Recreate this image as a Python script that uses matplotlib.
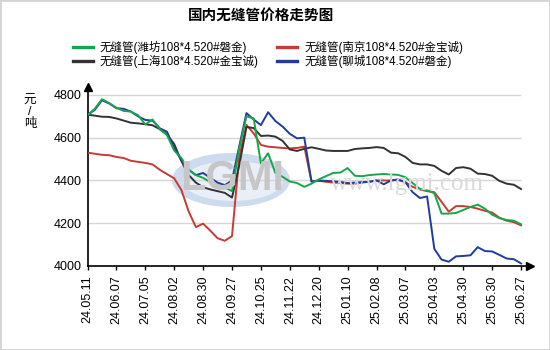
import matplotlib
matplotlib.use("Agg")
import matplotlib.pyplot as plt
from matplotlib.patches import Ellipse, Rectangle

plt.rcParams['font.family'] = ['Liberation Sans', 'Noto Sans CJK SC', 'DejaVu Sans']

# tick labels (one every 4 data points)
dates = ['24.05.11', '24.06.07', '24.07.05', '24.08.02', '24.08.30', '24.09.27',
         '24.10.25', '24.11.22', '24.12.20', '25.01.10', '25.02.08', '25.03.07',
         '25.04.03', '25.04.30', '25.05.30', '25.06.27']

# prices, yuan/ton
weifang = [4705, 4735, 4780, 4762, 4740, 4725, 4722, 4705, 4662, 4685, 4640, 4612,
           4540, 4505, 4450, 4425, 4412, 4392, 4378, 4368, 4350, 4550, 4700, 4690,
           4480, 4527, 4435, 4417, 4395, 4388, 4370, 4385, 4405, 4420, 4435, 4437,
           4458, 4422, 4420, 4425, 4428, 4430, 4428, 4426, 4415, 4388, 4360, 4354,
           4340, 4245, 4245, 4248, 4262, 4276, 4287, 4268, 4240, 4224, 4215, 4212,
           4195]
shanghai = [4708, 4703, 4698, 4697, 4690, 4680, 4670, 4667, 4663, 4658, 4640, 4615,
            4570, 4490, 4425, 4390, 4368, 4358, 4350, 4342, 4320, 4470, 4650, 4645,
            4608, 4610, 4605, 4585, 4545, 4538, 4548, 4555, 4548, 4540, 4538, 4538,
            4538, 4547, 4550, 4552, 4556, 4552, 4530, 4527, 4510, 4482, 4475, 4475,
            4468, 4445, 4428, 4458, 4462, 4455, 4432, 4430, 4422, 4398, 4385, 4380,
            4360]
nanjing = [4530, 4525, 4520, 4518, 4510, 4505, 4492, 4487, 4482, 4475, 4450, 4430,
           4410, 4355, 4255, 4182, 4198, 4165, 4130, 4118, 4140, 4510, 4660, 4620,
           4566, 4558, 4555, 4552, 4550, 4552, 4558, 4395, 4398, 4394, 4390, 4388,
           4385, 4385, 4390, 4395, 4400, 4400, 4400, 4402, 4392, 4370, 4358, 4350,
           4345, 4300, 4254, 4280, 4280, 4276, 4268, 4258, 4250, 4226, 4212, 4205,
           4190]
liaocheng = [4706, 4730, 4775, 4760, 4738, 4735, 4722, 4700, 4683, 4680, 4644, 4628,
             4550, 4495, 4450, 4425, 4435, 4412, 4390, 4378, 4400, 4560, 4715, 4685,
             4659, 4719, 4678, 4652, 4618, 4597, 4600, 4395, 4400, 4398, 4396, 4393,
             4388, 4390, 4392, 4393, 4400, 4382, 4400, 4405, 4392, 4345, 4318, 4325,
             4080, 4030, 4020, 4045, 4047, 4050, 4088, 4070, 4068, 4052, 4035, 4032,
             4012]

x = [i / 4 for i in range(len(weifang))]
yticks = [4000, 4200, 4400, 4600, 4800]

fig = plt.figure(figsize=(5.5, 3.5), dpi=100)
ax = fig.add_axes([87.5 / 550, 84 / 350, 442.5 / 550, 179 / 350])

# watermark
ax.add_patch(Ellipse((231 / 550, 1 - 180 / 350), 118 / 550, 54 / 350,
                     transform=fig.transFigure, fc='#cddbef', ec='none', zorder=0.5))
ax.add_patch(Ellipse((233 / 550, 1 - 181 / 350), 100 / 550, 40 / 350,
                     transform=fig.transFigure, fc='#e9eff8', ec='none', zorder=0.6))
fig.text(232 / 550, 1 - 179 / 350, 'LGMI', ha='center', va='center', fontsize=30,
         fontweight='bold', color='#c6c6c6', zorder=0.7)
fig.text(407 / 550, 1 - 184 / 350, 'www.lgmi.com', ha='center', va='center',
         fontsize=18, family='Liberation Serif', color='#dadada', zorder=0.7)

ax.hlines(yticks[1:], 0, 15, colors='#d6d6d6', lw=1, zorder=1)

ax.plot(x, nanjing, color='#c83a32', lw=1.4, zorder=3,
        label='无缝管(南京108*4.520#金宝诚)')
ax.plot(x, shanghai, color='#333333', lw=1.4, zorder=3,
        label='无缝管(上海108*4.520#金宝诚)')
ax.plot(x, liaocheng, color='#1f3d9a', lw=1.4, zorder=3,
        label='无缝管(聊城108*4.520#磐金)')
ax.plot(x, weifang, color='#18a64c', lw=1.4, zorder=4,
        label='无缝管(潍坊108*4.520#磐金)')

ax.set_xlim(0, 15.31)
ax.set_ylim(4000, 4837)
ax.set_yticks(yticks)
ax.set_yticklabels([str(v) for v in yticks], fontsize=9)
ax.set_xticks(range(len(dates)))
ax.set_xticklabels(dates, rotation=90, fontsize=9)
ax.tick_params(axis='y', length=0, pad=4)
ax.tick_params(axis='x', length=3, pad=4, width=1)

for s in ['top', 'right']:
    ax.spines[s].set_visible(False)
for s in ['left', 'bottom']:
    ax.spines[s].set_color('black')
    ax.spines[s].set_linewidth(1.2)
ax.plot(0, 1, '^k', ms=6, transform=ax.transAxes, clip_on=False)
ax.plot(1, 0, '>k', ms=6, transform=ax.transAxes, clip_on=False)

fig.text(30 / 550, 1 - 112 / 350, '元\n/\n吨', ha='center', va='center',
         fontsize=9, linespacing=0.95)

fig.text(261 / 550, 1 - 17 / 350, '国内无缝管价格走势图', ha='center', va='center',
         fontsize=10.5, fontweight='bold')

h, l = ax.get_legend_handles_labels()
order = [3, 1, 0, 2]
leg = fig.legend([h[i] for i in order], [l[i] for i in order], ncol=2, frameon=False,
                 loc='center', bbox_to_anchor=(268 / 550, 1 - 54.5 / 350), fontsize=8.3,
                 handlelength=1.75, handletextpad=0.6, columnspacing=1.6,
                 labelspacing=0.12, borderpad=0)
for line in leg.get_lines():
    line.set_linewidth(2.4)

fig.patches.append(Rectangle((0, 0), 1, 1, transform=fig.transFigure, fill=False,
                             ec='#d4d4d4', lw=2))

fig.savefig('out.png', dpi=100)
